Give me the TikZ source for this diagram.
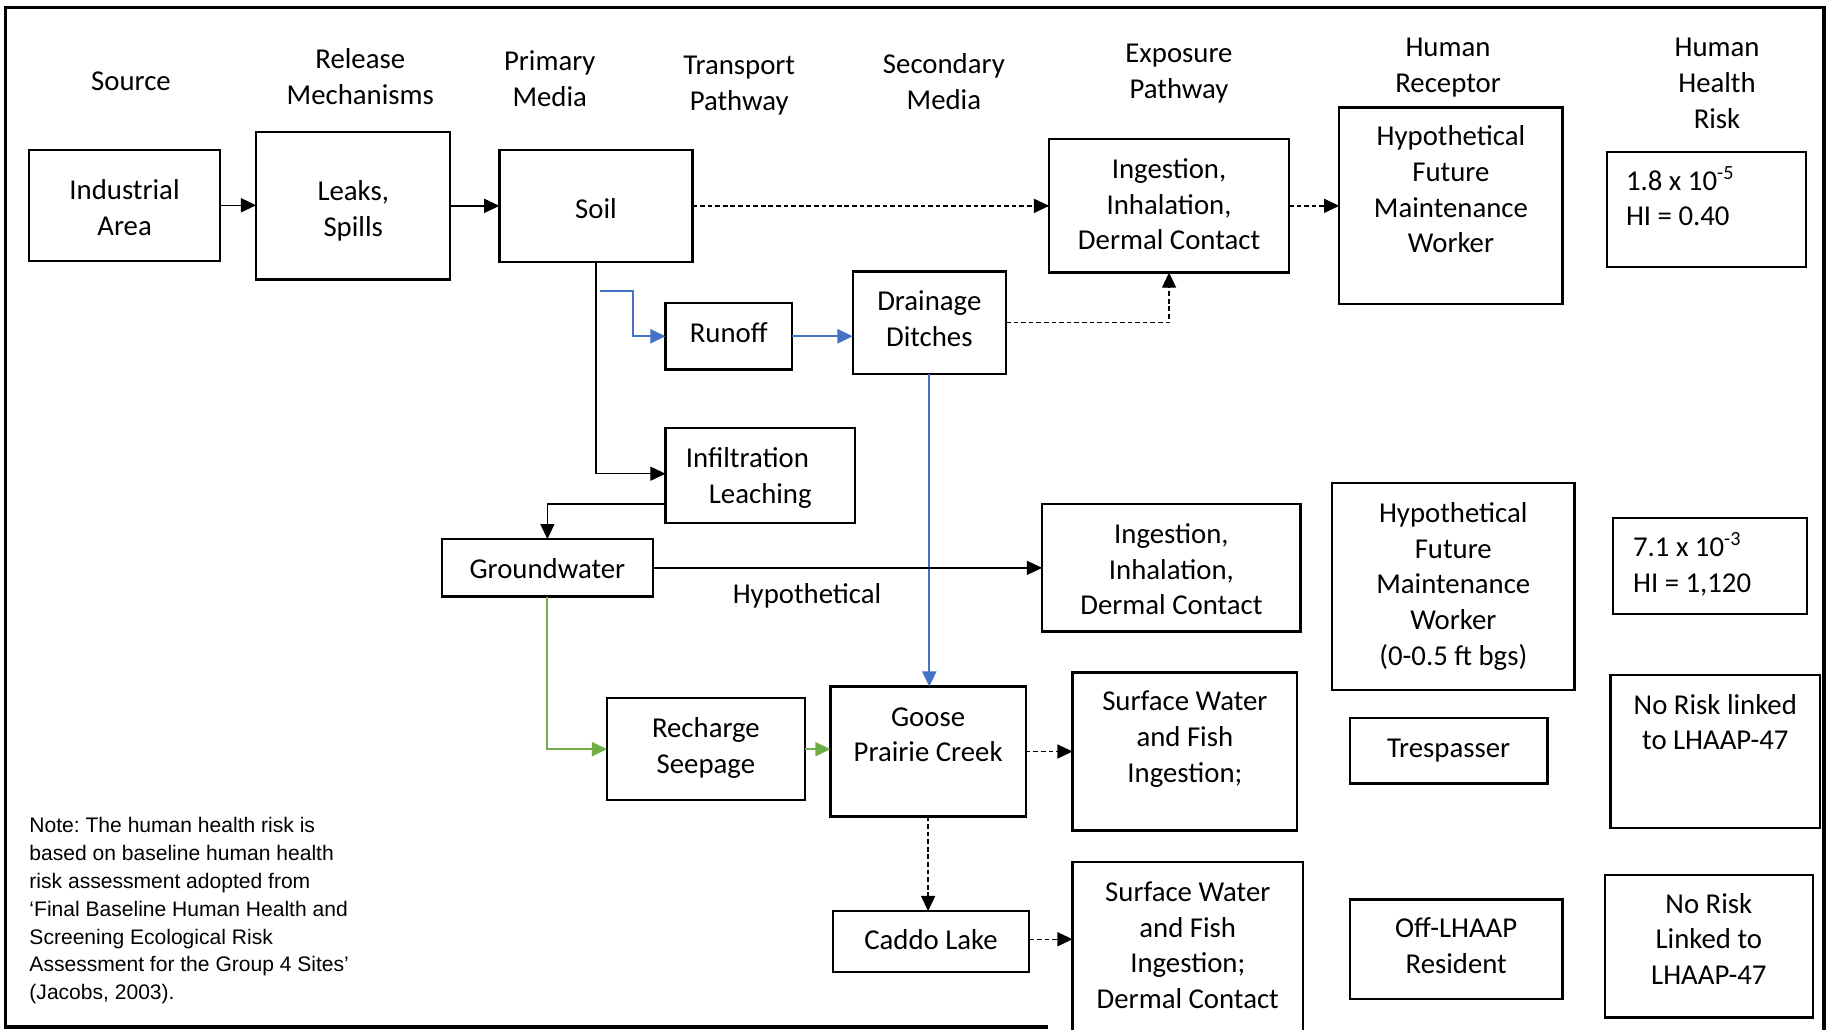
\documentclass[tikz,border=0pt]{standalone}
\usepackage{fontspec}
\setmainfont{Carlito}
\newfontfamily\notefont{Liberation Sans}
\usetikzlibrary{arrows.meta}
\definecolor{cblue}{HTML}{4472C4}
\definecolor{cgreen}{HTML}{70AD47}
\newcommand\fst{\rule{0pt}{24.8pt}}
\newcommand\nst{\rule{0pt}{18pt}}
\frenchspacing
\begin{document}
\begin{tikzpicture}[x=1pt,y=-1pt,
  box/.style={draw, line width=2pt, inner sep=0pt, outer sep=0pt, rectangle},
  txt/.style={font=\fontsize{24.6}{30.5}\selectfont, align=center, inner sep=0pt, anchor=north},
  ltxt/.style={font=\fontsize{24.6}{30.5}\selectfont, align=left, inner sep=0pt, anchor=north west},
  tip/.style={-{Triangle[length=13pt,width=12pt]}},
  conn/.style={tip, line width=1.1pt, black},
  dconn/.style={tip, line width=1.1pt, black, dash pattern=on 4pt off 2.5pt},
  bconn/.style={tip, line width=1.8pt, cblue},
  gconn/.style={tip, line width=1.8pt, cgreen}
]
\useasboundingbox (0,0) rectangle (1568,880);
\clip (0,0) rectangle (1568,880);
\fill[white] (0,0) rectangle (1568,880);

% frame
\draw[line width=3pt] (896,878) -- (4.5,878) -- (4.5,6.5) -- (1559.5,6.5) -- (1559.5,895);

% headers
\node[txt] (hsrc) at (112,52.7) {\fst Source};
\node[txt] (hrel) at (308,33.7) {\fst Release\\Mechanisms};
\node[txt] (hpri) at (470,35.7) {\fst Primary\\Media};
\node[txt] (htra) at (632,38.7) {\fst Transport\\Pathway};
\node[txt] (hsec) at (807,37.7) {\fst Secondary\\Media};
\node[txt] (hexp) at (1008,28.7) {\fst Exposure\\Pathway};
\node[txt] (hrec) at (1238,23.7) {\fst Human\\Receptor};
\node[txt] (hrsk) at (1468,23.7) {\fst Human\\Health\\Risk};

% boxes
\node[box, minimum width=163pt, minimum height=95pt] (ind) at (106.5,175.5) {};
\node[box, minimum width=166pt, minimum height=126pt] (leaks) at (302,176) {};
\node[box, minimum width=165pt, minimum height=96pt] (soil) at (509.5,176) {};
\node[box, minimum width=205pt, minimum height=114pt] (ing1) at (999.5,176) {};
\node[box, minimum width=191pt, minimum height=168pt] (hw1) at (1240.5,176) {};
\node[box, minimum width=170pt, minimum height=98pt] (risk1) at (1459,179) {};
\node[box, minimum width=108pt, minimum height=57pt] (runoff) at (623,287.5) {};
\node[box, minimum width=131pt, minimum height=88pt] (drain) at (794.5,276) {};
\node[box, minimum width=162pt, minimum height=81pt] (inf) at (650,406.5) {};
\node[box, minimum width=180pt, minimum height=49pt] (gw) at (468,485.5) {};
\node[box, minimum width=221pt, minimum height=109pt] (ing2) at (1001.5,485.5) {};
\node[box, minimum width=207pt, minimum height=177pt] (hw2) at (1242.5,501.5) {};
\node[box, minimum width=166pt, minimum height=82pt] (risk2) at (1462,484) {};
\node[box, minimum width=169pt, minimum height=87pt] (rech) at (603.5,640.5) {};
\node[box, minimum width=167pt, minimum height=111pt] (goose) at (793.5,642.5) {};
\node[box, minimum width=192pt, minimum height=135pt] (sw1) at (1013,642.5) {};
\node[box, minimum width=169pt, minimum height=56pt] (tres) at (1238.5,642) {};
\node[box, minimum width=179pt, minimum height=131pt] (nr1) at (1466.5,642.5) {};
\node[box, minimum width=168pt, minimum height=52pt] (caddo) at (796,805) {};
\node[box, minimum width=197pt, minimum height=183pt] (sw2) at (1015.5,828.5) {};
\node[box, minimum width=182pt, minimum height=85pt] (off) at (1245,811.5) {};
\node[box, minimum width=178pt, minimum height=122pt] (nr2) at (1461,809) {};

% box texts
\node[txt] (tind) at (106.5,145.7) {\fst Industrial\\Area};
\node[txt] (tleaks) at (302,146.7) {\fst Leaks,\\Spills};
\node[txt] (tsoil) at (509.5,161.7) {\fst Soil};
\node[txt] (ting1) at (999.5,127.7) {\fst Ingestion,\\Inhalation,\\Dermal Contact};
\node[txt] (thw1) at (1240.5,99.7) {\fst Hypothetical\\Future\\Maintenance\\Worker};
\node[ltxt] (trisk1) at (1390,137.7) {\fst 1.8 x 10\textsuperscript{-5}\\HI = 0.40};
\node[txt] (trunoff) at (623,267.7) {\fst Runoff};
\node[txt] (tdrain) at (794.5,240.7) {\fst Drainage\\Ditches};
\node[txt] (tinf) at (650,374.7) {\fst Infiltration\kern22pt\\Leaching};
\node[txt] (tgw) at (468,469.7) {\fst Groundwater};
\node[txt] (ting2) at (1001.5,439.7) {\fst Ingestion,\\Inhalation,\\Dermal Contact};
\node[txt] (thw2) at (1242.5,421.7) {\fst Hypothetical\\Future\\Maintenance\\Worker\\(0-0.5 ft bgs)};
\node[ltxt] (trisk2) at (1396,450.7) {\fst 7.1 x 10\textsuperscript{-3}\\HI = 1,120};
\node[txt] (trech) at (603.5,605.7) {\fst Recharge\\Seepage};
\node[txt] (tgoose) at (793.5,595.7) {\fst Goose\\Prairie Creek};
\node[txt] (tsw1) at (1013,582.7) {\fst Surface Water\\and Fish\\Ingestion;};
\node[txt] (ttres) at (1238.5,622.7) {\fst Trespasser};
\node[txt] (tnr1) at (1466.5,585.7) {\fst No Risk linked\\to LHAAP-47};
\node[txt] (tcaddo) at (796,786.7) {\fst Caddo Lake};
\node[txt] (tsw2) at (1015.5,745.7) {\fst Surface Water\\and Fish\\Ingestion;\\Dermal Contact};
\node[txt] (toff) at (1245,776.7) {\fst Off-LHAAP\\Resident};
\node[txt] (tnr2) at (1461,755.7) {\fst No Risk\\Linked to\\LHAAP-47};

\node[txt] (hyp) at (690,490.7) {\fst Hypothetical};

\node[anchor=north west, align=left, inner sep=0pt, font=\notefont\fontsize{18}{23.8}\selectfont] (note) at (25,693.7)
 {\nst Note: The human health risk is\\based on baseline human health\\risk assessment adopted from\\‘Final Baseline Human Health and\\Screening Ecological Risk\\Assessment for the Group 4 Sites’\\(Jacobs, 2003).};

% connectors
\draw[conn] (ind.east) -- (ind.east -| leaks.west);
\draw[conn] (leaks.east) -- (leaks.east -| soil.west);
\draw[dconn] (soil.east) -- (soil.east -| ing1.west);
\draw[dconn] (ing1.east) -- (ing1.east -| hw1.west);
\draw[dconn] (drain.east) -| (ing1.south);
\draw[conn] (soil.south) |- ([yshift=1.5pt]inf.west);
\coordinate (bstart) at (513,249);
\draw[bconn] (bstart) -- ++(28,0) |- (runoff.west);
\draw[bconn] (runoff.east) -- (runoff.east -| drain.west);
\draw[bconn] (drain.south) -- (drain.south |- goose.north);
\draw[conn] ([yshift=-24.5pt]inf.west) -| (gw.north);
\draw[conn] (gw.east) -- (gw.east -| ing2.west);
\draw[gconn] (gw.south) |- (rech.west);
\draw[gconn] (rech.east) -- (rech.east -| goose.west);
\draw[dconn] (goose.east) -- (goose.east -| sw1.west);
\draw[dconn] (goose.south) -- (goose.south |- caddo.north);
\draw[dconn] ([yshift=2pt]caddo.east) -- ([yshift=2pt]caddo.east -| sw2.west);
\end{tikzpicture}
\end{document}
